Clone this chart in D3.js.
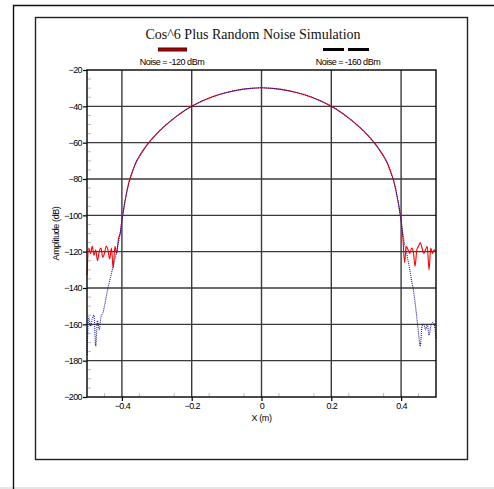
<!DOCTYPE html>
<html>
<head>
<meta charset="utf-8">
<script src="https://cdn.jsdelivr.net/npm/d3@7"></script>
<style>
body { margin: 0; background: #fff; }
</style>
</head>
<body>
<script>
// x positions (m)
let xs = [-0.5, -0.495, -0.49, -0.485, -0.48, -0.475, -0.47, -0.465, -0.46, -0.455,
  -0.45, -0.445, -0.44, -0.435, -0.43, -0.425, -0.42, -0.415, -0.41, -0.405,
  -0.4, -0.39, -0.38, -0.37, -0.36, -0.35, -0.34, -0.32, -0.3, -0.28, -0.26, -0.24, -0.22, -0.2,
  -0.17, -0.14, -0.1, -0.06, -0.03, 0, 0.03, 0.06, 0.1, 0.14, 0.17,
  0.2, 0.22, 0.24, 0.26, 0.28, 0.3, 0.32, 0.34, 0.35, 0.36, 0.37, 0.38, 0.39, 0.4,
  0.405, 0.41, 0.415, 0.42, 0.425, 0.43, 0.435, 0.44, 0.445, 0.45,
  0.455, 0.46, 0.465, 0.47, 0.475, 0.48, 0.485, 0.49, 0.495, 0.5];

// Noise = -120 dBm
let noise120 = [-133, -118, -121, -117, -122, -119, -125, -120, -118, -123,
  -121, -117, -119, -124, -118, -129, -117, -121, -113, -110,
  -103, -91, -82, -76, -71, -67.5, -64.5, -59.3, -55, -51.3, -48, -45, -42.3, -40,
  -37.1, -34.7, -32.4, -30.8, -30.1, -29.8, -30.1, -30.8, -32.4, -34.7, -37.1,
  -40, -42.3, -45, -48, -51.3, -55, -59.3, -64.5, -67.5, -71, -76, -82, -91, -103,
  -112, -126, -117, -119, -121, -118, -120, -128, -119, -117,
  -115, -118, -121, -119, -117, -130, -118, -121, -119, -120];

// Noise = -160 dBm
let noise160 = [-177, -156, -161, -157, -155, -172, -158, -163, -156, -154,
  -150, -145, -140, -136, -132, -128, -124, -120, -115, -110,
  -103, -91, -82, -76, -71, -67.5, -64.5, -59.3, -55, -51.3, -48, -45, -42.3, -40,
  -37.1, -34.7, -32.4, -30.8, -30.1, -29.8, -30.1, -30.8, -32.4, -34.7, -37.1,
  -40, -42.3, -45, -48, -51.3, -55, -59.3, -64.5, -67.5, -71, -76, -82, -91, -103,
  -110, -116, -120, -125, -130, -136, -141, -148, -156, -165,
  -172, -161, -160, -163, -160, -166, -161, -159, -160, -168];

let xTicks = [-0.4, -0.2, 0, 0.2, 0.4];
let yTicks = [-20, -40, -60, -80, -100, -120, -140, -160, -180, -200];

let svgWidth = 494, svgHeight = 489;
let pLeft = 87, pRight = 436, pTop = 70, pBottom = 397;
let sans = '"Liberation Sans", Arial, sans-serif';

let svg = d3.select('body').append('svg')
  .attr('width', svgWidth).attr('height', svgHeight)

// page frames
svg.append('line').attr('x1', 0).attr('x2', svgWidth).attr('y1', 488).attr('y2', 488)
  .attr('stroke', '#ccc').attr('stroke-width', 1)
svg.append('path').attr('d', 'M13.5,' + svgHeight + 'V5.5H' + svgWidth)
  .attr('fill', 'none').attr('stroke', '#111').attr('stroke-width', 1.4)
svg.append('rect').attr('x', 35.5).attr('y', 17.5).attr('width', 432).attr('height', 442)
  .attr('fill', 'none').attr('stroke', '#222').attr('stroke-width', 1.4)

let xScale = d3.scaleLinear().domain([-0.5, 0.5]).range([pLeft, pRight])
let yScale = d3.scaleLinear().domain([-200, -20]).range([pBottom, pTop])

// minor ticks (inside)
let xMinor = d3.range(-0.45, 0.5, 0.05).filter(v => Math.abs(Math.round(v * 10) / 10 - v) > 0.01)
svg.append('g').selectAll('line').data(xMinor).enter().append('line')
  .attr('x1', d => xScale(d)).attr('x2', d => xScale(d))
  .attr('y1', pBottom).attr('y2', pBottom - 4)
  .attr('stroke', '#bbb').attr('stroke-width', 1)
let yMinor = d3.range(-195, -20, 5).filter(v => v % 20 != 0)
svg.append('g').selectAll('line').data(yMinor).enter().append('line')
  .attr('x1', pLeft).attr('x2', pLeft + 4)
  .attr('y1', d => yScale(d)).attr('y2', d => yScale(d))
  .attr('stroke', '#bbb').attr('stroke-width', 1)

// grid
svg.append('g').selectAll('line').data(xTicks).enter().append('line')
  .attr('x1', d => xScale(d)).attr('x2', d => xScale(d))
  .attr('y1', pTop).attr('y2', pBottom)
  .attr('stroke', '#3a3a3a').attr('stroke-width', 1.4)
svg.append('g').selectAll('line').data(yTicks.slice(1, -1)).enter().append('line')
  .attr('x1', pLeft).attr('x2', pRight)
  .attr('y1', d => yScale(d)).attr('y2', d => yScale(d))
  .attr('stroke', '#3a3a3a').attr('stroke-width', 1.4)

// axes
let xAxis = d3.axisBottom(xScale).tickValues(xTicks).tickSize(4).tickPadding(2)
  .tickFormat(d => d == 0 ? '0' : d3.format('.1f')(d))
let yAxis = d3.axisLeft(yScale).tickValues(yTicks).tickSize(4).tickPadding(1)

let gx = svg.append('g').attr('transform', 'translate(0,' + pBottom + ')').call(xAxis)
let gy = svg.append('g').attr('transform', 'translate(' + pLeft + ',0)').call(yAxis)
;[gx, gy].forEach(g => {
  g.select('.domain').remove()
  g.selectAll('text').attr('fill', '#000')
    .style('font-family', sans).style('font-size', '9px').style('letter-spacing', '-0.6px')
  g.selectAll('line').attr('stroke', '#000').attr('stroke-width', 1.2)
})

// series
let pts = xs.map((x, i) => ({ x: x, a: noise120[i], b: noise160[i] }))
let lineA = d3.line().x(d => xScale(d.x)).y(d => yScale(d.a)).curve(d3.curveMonotoneX)
let lineB = d3.line().x(d => xScale(d.x)).y(d => yScale(d.b)).curve(d3.curveMonotoneX)

svg.append('path').datum(pts).attr('d', lineA)
  .attr('fill', 'none').attr('stroke', '#ff0000').attr('stroke-width', 1.1)
svg.append('path').datum(pts).attr('d', lineB)
  .attr('fill', 'none').attr('stroke', '#1a1a9a').attr('stroke-width', 1.1)
  .attr('stroke-dasharray', '1,1')

// plot frame
svg.append('rect').attr('x', pLeft).attr('y', pTop)
  .attr('width', pRight - pLeft).attr('height', pBottom - pTop)
  .attr('fill', 'none').attr('stroke', '#111').attr('stroke-width', 1.5)

// labels
svg.append('text').attr('x', 253).attr('y', 39).attr('text-anchor', 'middle')
  .style('font-family', '"Liberation Serif", "Times New Roman", serif')
  .style('font-size', '14px').attr('fill', '#111')
  .text('Cos^6 Plus Random Noise Simulation')

svg.append('text').attr('x', xScale(0)).attr('y', 421).attr('text-anchor', 'middle')
  .style('font-family', sans).style('font-size', '9px').style('letter-spacing', '-0.4px')
  .text('X (m)')
svg.append('text').attr('transform', 'translate(59,' + (pTop + pBottom) / 2 + ') rotate(-90)')
  .attr('text-anchor', 'middle')
  .style('font-family', sans).style('font-size', '9px').style('letter-spacing', '-0.4px')
  .text('Amplitude (dB)')

// legend
let legend = [
  { label: 'Noise = -120 dBm', cx: 172 },
  { label: 'Noise = -160 dBm', cx: 348 }
]
svg.append('line').attr('x1', 158).attr('x2', 187).attr('y1', 49.5).attr('y2', 49.5)
  .attr('stroke', '#5a0000').attr('stroke-width', 4)
svg.append('line').attr('x1', 159).attr('x2', 186).attr('y1', 49.5).attr('y2', 49.5)
  .attr('stroke', '#b00000').attr('stroke-width', 2)
svg.append('line').attr('x1', 323).attr('x2', 370).attr('y1', 49.5).attr('y2', 49.5)
  .attr('stroke', '#000').attr('stroke-width', 3).attr('stroke-dasharray', '21,4')
svg.selectAll('.leg').data(legend).enter().append('text')
  .attr('x', d => d.cx).attr('y', 65).attr('text-anchor', 'middle')
  .style('font-family', sans).style('font-size', '9px').style('letter-spacing', '-0.5px')
  .text(d => d.label)
</script>
</body>
</html>
